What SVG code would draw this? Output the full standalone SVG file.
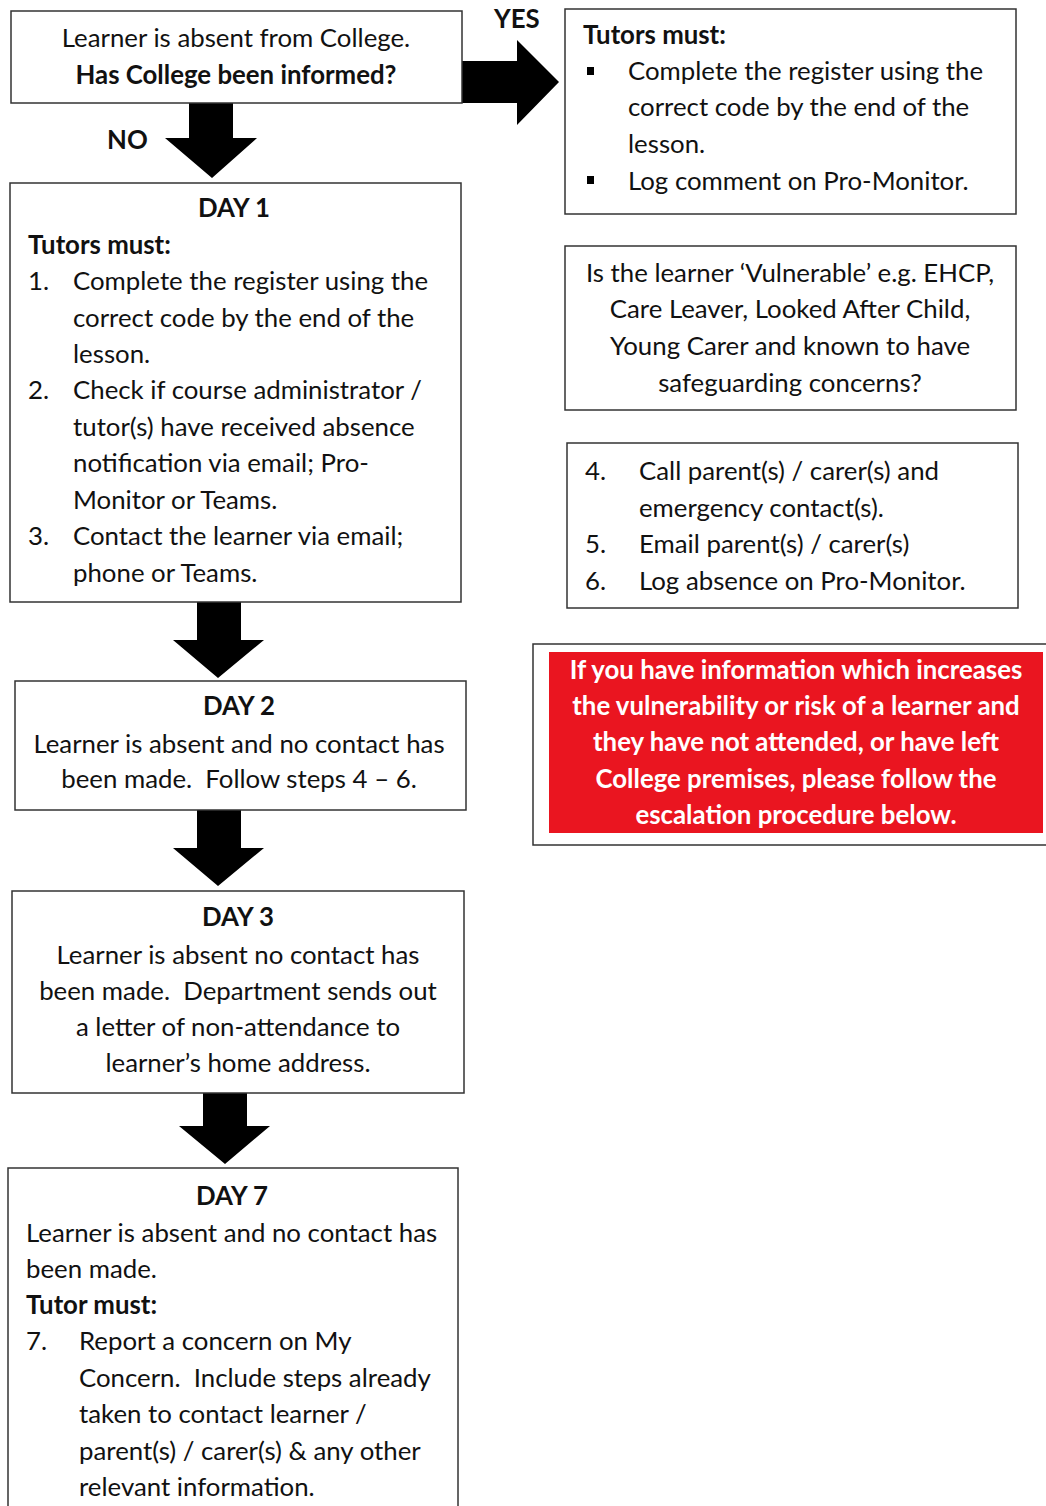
<svg xmlns="http://www.w3.org/2000/svg" width="1046" height="1506" viewBox="0 0 1046 1506">
<style>
.box{fill:#fff;stroke:#333;stroke-width:1.5}
.t{font-family:Lato,"Liberation Sans",sans-serif;font-size:25.8px;fill:#111}
.b{font-weight:bold}
.c{text-anchor:middle}
.w{fill:#fff;font-weight:bold}
.arr{fill:#000}
</style>
<rect width="1046" height="1506" fill="#fff"/>
<g id="connectors">
<polygon class="arr" points="462,61 517,61 517,40 559,82 517,125 517,103 462,103"/>
<polygon class="arr" points="189,103 233,103 233,138 257,138 212,178 165,138 189,138"/>
<polygon class="arr" points="197,602 241,602 241,640 264,640 218,678 173,640 197,640"/>
<polygon class="arr" points="197,810 241,810 241,848 264,848 218,886 173,848 197,848"/>
<polygon class="arr" points="203,1088 247,1088 247,1126 270,1126 225,1164 179,1126 203,1126"/>
<text class="t b" x="494" y="28">YES</text>
<text class="t b" x="107" y="149">NO</text>
</g>
<g id="start">
<rect class="box" x="11" y="11" width="451" height="92"/>
<text class="t c" x="236" y="47">Learner is absent from College.</text>
<text class="t b c" x="236" y="84">Has College been informed?</text>
</g>
<g id="day1">
<rect class="box" x="10" y="183" width="451" height="419"/>
<text class="t b c" x="234" y="217">DAY 1</text>
<text class="t b" x="28" y="254">Tutors must:</text>
<text class="t" x="28" y="290">1.</text>
<text class="t" x="73" y="290">Complete the register using the</text>
<text class="t" x="73" y="327">correct code by the end of the</text>
<text class="t" x="73" y="363">lesson.</text>
<text class="t" x="28" y="399">2.</text>
<text class="t" x="73" y="399">Check if course administrator /</text>
<text class="t" x="73" y="436">tutor(s) have received absence</text>
<text class="t" x="73" y="472">notification via email; Pro-</text>
<text class="t" x="73" y="509">Monitor or Teams.</text>
<text class="t" x="28" y="545">3.</text>
<text class="t" x="73" y="545">Contact the learner via email;</text>
<text class="t" x="73" y="582">phone or Teams.</text>
</g>
<g id="day2">
<rect class="box" x="15" y="681" width="451" height="129"/>
<text class="t b c" x="239" y="715">DAY 2</text>
<text class="t c" x="239" y="753">Learner is absent and no contact has</text>
<text class="t c" x="239" y="788" xml:space="preserve">been made.  Follow steps 4 – 6.</text>
</g>
<g id="day3">
<rect class="box" x="12" y="891" width="452" height="202"/>
<text class="t b c" x="238" y="926">DAY 3</text>
<text class="t c" x="238" y="964">Learner is absent no contact has</text>
<text class="t c" x="238" y="1000" xml:space="preserve">been made.  Department sends out</text>
<text class="t c" x="238" y="1036">a letter of non-attendance to</text>
<text class="t c" x="238" y="1072">learner’s home address.</text>
</g>
<g id="day7">
<rect class="box" x="8" y="1168" width="450" height="345"/>
<text class="t b c" x="232" y="1205">DAY 7</text>
<text class="t" x="26" y="1242">Learner is absent and no contact has</text>
<text class="t" x="26" y="1278">been made.</text>
<text class="t b" x="26" y="1314">Tutor must:</text>
<text class="t" x="26" y="1350">7.</text>
<text class="t" x="79" y="1350">Report a concern on My</text>
<text class="t" x="79" y="1387" xml:space="preserve">Concern.  Include steps already</text>
<text class="t" x="79" y="1423">taken to contact learner /</text>
<text class="t" x="79" y="1460">parent(s) / carer(s) &amp; any other</text>
<text class="t" x="79" y="1496">relevant information.</text>
</g>
<g id="informed">
<rect class="box" x="565" y="9" width="451" height="205"/>
<text class="t b" x="583" y="44">Tutors must:</text>
<rect x="587" y="67" width="7" height="8" fill="#000"/>
<text class="t" x="628" y="80">Complete the register using the</text>
<text class="t" x="628" y="116">correct code by the end of the</text>
<text class="t" x="628" y="153">lesson.</text>
<rect x="587" y="176" width="7" height="8" fill="#000"/>
<text class="t" x="628" y="190">Log comment on Pro-Monitor.</text>
</g>
<g id="vulnerable">
<rect class="box" x="565" y="246" width="451" height="164"/>
<text class="t c" x="790" y="282">Is the learner ‘Vulnerable’ e.g. EHCP,</text>
<text class="t c" x="790" y="318">Care Leaver, Looked After Child,</text>
<text class="t c" x="790" y="355">Young Carer and known to have</text>
<text class="t c" x="790" y="392">safeguarding concerns?</text>
</g>
<g id="steps">
<rect class="box" x="567" y="443" width="451" height="165"/>
<text class="t" x="585" y="480">4.</text>
<text class="t" x="639" y="480">Call parent(s) / carer(s) and</text>
<text class="t" x="639" y="517">emergency contact(s).</text>
<text class="t" x="585" y="553">5.</text>
<text class="t" x="639" y="553">Email parent(s) / carer(s)</text>
<text class="t" x="585" y="590">6.</text>
<text class="t" x="639" y="590">Log absence on Pro-Monitor.</text>
</g>
<g id="escalation">
<rect class="box" x="533" y="644" width="520" height="201"/>
<rect x="549" y="652" width="494" height="181" fill="#ea1520"/>
<text class="t w c" x="796" y="679">If you have information which increases</text>
<text class="t w c" x="796" y="715">the vulnerability or risk of a learner and</text>
<text class="t w c" x="796" y="751">they have not attended, or have left</text>
<text class="t w c" x="796" y="788">College premises, please follow the</text>
<text class="t w c" x="796" y="824">escalation procedure below.</text>
</g>
</svg>
